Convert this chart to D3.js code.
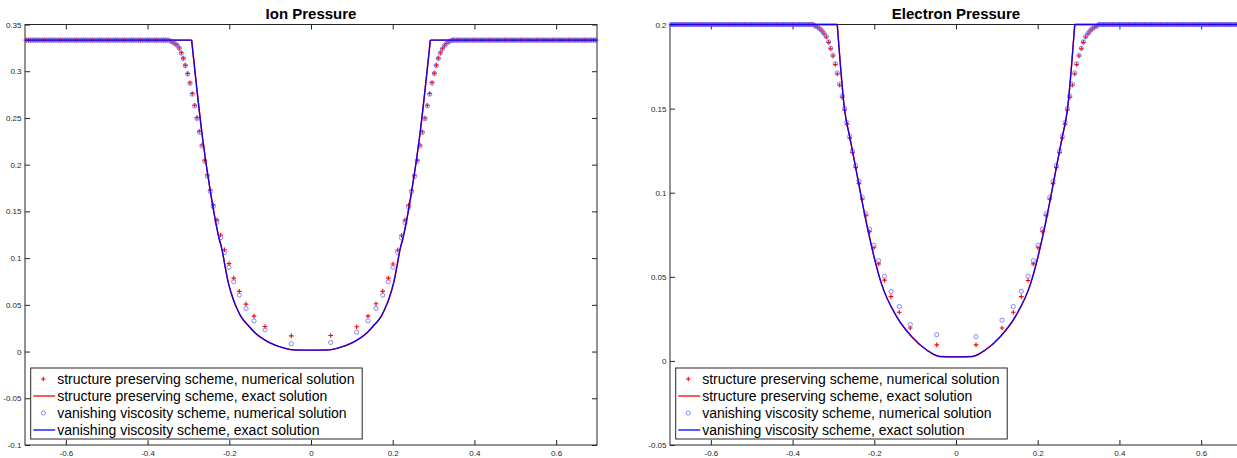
<!DOCTYPE html>
<html>
<head>
<meta charset="utf-8">
<script src="https://cdn.jsdelivr.net/npm/d3@7"></script>
<style>
  body { margin: 0; background: #fff; }
  text { font-family: "Liberation Sans", Arial, sans-serif; }
</style>
</head>
<body>
<script>
// undisturbed grid points (same in both panels)
const farLeftX = [-0.6972,-0.6916,-0.6860,-0.6804,-0.6748,-0.6692,-0.6636,-0.6580,-0.6524,-0.6468,-0.6412,-0.6356,-0.6300,-0.6244,-0.6188,-0.6132,-0.6076,-0.6020,-0.5964,-0.5908,-0.5852,-0.5796,-0.5740,-0.5684,-0.5628,-0.5572,-0.5516,-0.5460,-0.5404,-0.5348,-0.5292,-0.5236,-0.5180,-0.5124,-0.5068,-0.5012,-0.4956,-0.4900,-0.4844,-0.4788,-0.4732,-0.4676,-0.4620,-0.4564,-0.4508,-0.4452,-0.4396,-0.4340,-0.4284,-0.4228,-0.4172,-0.4116,-0.4060,-0.4004,-0.3948,-0.3892,-0.3836,-0.3780,-0.3724,-0.3668,-0.3612,-0.3556,-0.3500];
const farRightX = [0.3500,0.3556,0.3612,0.3668,0.3724,0.3780,0.3836,0.3892,0.3948,0.4004,0.4060,0.4116,0.4172,0.4228,0.4284,0.4340,0.4396,0.4452,0.4508,0.4564,0.4620,0.4676,0.4732,0.4788,0.4844,0.4900,0.4956,0.5012,0.5068,0.5124,0.5180,0.5236,0.5292,0.5348,0.5404,0.5460,0.5516,0.5572,0.5628,0.5684,0.5740,0.5796,0.5852,0.5908,0.5964,0.6020,0.6076,0.6132,0.6188,0.6244,0.6300,0.6356,0.6412,0.6468,0.6524,0.6580,0.6636,0.6692,0.6748,0.6804,0.6860,0.6916,0.6972];

// ion pressure
const ionFar = 0.3333;
const ionMidX = [-0.3434,-0.3386,-0.3329,-0.3280,-0.3224,-0.3175,-0.3126,-0.3077,-0.3018,-0.2962,-0.2906,-0.2847,-0.2791,-0.2734,-0.2668,-0.2602,-0.2539,-0.2465,-0.2392,-0.2301,-0.2211,-0.2118,-0.2007,-0.1892,-0.1755,-0.1591,-0.1395,-0.1126,-0.0482,
  0.0482,0.1119,0.1395,0.1591,0.1755,0.1892,0.2007,0.2122,0.2215,0.2301,0.2387,0.2460,0.2534,0.2602,0.2668,0.2724,0.2791,0.2847,0.2906,0.2962,0.3018,0.3067,0.3116,0.3165,0.3214,0.3263,0.3312,0.3361,0.3420,0.3469];
const ionSP = [0.3323,0.3312,0.3297,0.3280,0.3248,0.3197,0.3140,0.3065,0.2975,0.2876,0.2761,0.2636,0.2503,0.2357,0.2210,0.2049,0.1892,0.1731,0.1570,0.1409,0.1248,0.1089,0.0941,0.0786,0.0644,0.0508,0.0379,0.0268,0.0168,
  0.0172,0.0265,0.0379,0.0512,0.0644,0.0786,0.0937,0.1087,0.1245,0.1406,0.1567,0.1727,0.1888,0.2049,0.2210,0.2353,0.2500,0.2636,0.2761,0.2879,0.2980,0.3065,0.3140,0.3197,0.3240,0.3273,0.3297,0.3315,0.3326,0.3333];
const ionVV = [0.3321,0.3310,0.3295,0.3277,0.3245,0.3193,0.3136,0.3060,0.2970,0.2870,0.2754,0.2628,0.2494,0.2347,0.2199,0.2036,0.1876,0.1713,0.1551,0.1383,0.1219,0.1059,0.0901,0.0748,0.0604,0.0461,0.0329,0.0233,0.0083,
  0.0097,0.0207,0.0329,0.0461,0.0604,0.0748,0.0901,0.1059,0.1216,0.1379,0.1545,0.1709,0.1872,0.2036,0.2199,0.2343,0.2491,0.2628,0.2754,0.2873,0.2975,0.3060,0.3136,0.3193,0.3237,0.3270,0.3295,0.3313,0.3324,0.3332];
const ionExactX = [-0.7,-0.2921,-0.2651,-0.2472,-0.2245,-0.2179,-0.2105,-0.2024,-0.1902,-0.1812,-0.1721,-0.1535,-0.1371,-0.1004,-0.0678,-0.0350,0,0.0350,0.0678,0.1004,0.1371,0.1535,0.1721,0.1812,0.1902,0.2024,0.2105,0.2179,0.2245,0.2472,0.2651,0.2921,0.7];
const ionExactY = [0.3333,0.3333,0.2275,0.1738,0.1202,0.1094,0.0915,0.0737,0.0558,0.0461,0.0379,0.0279,0.0201,0.0093,0.0040,0.0016,0.0015,0.0016,0.0040,0.0093,0.0201,0.0279,0.0379,0.0461,0.0558,0.0737,0.0915,0.1094,0.1202,0.1738,0.2275,0.3333,0.3333];

// electron pressure
const eleFar = 0.2;
const eleMidX = [-0.3452,-0.3386,-0.3329,-0.3280,-0.3231,-0.3175,-0.3116,-0.3067,-0.3011,-0.2955,-0.2906,-0.2847,-0.2786,-0.2724,-0.2668,-0.2600,-0.2534,-0.2455,-0.2375,-0.2294,-0.2203,-0.2113,-0.2007,-0.1892,-0.1750,-0.1591,-0.1388,-0.1119,-0.0472,
  0.0490,0.1126,0.1403,0.1599,0.1763,0.1892,0.2007,0.2113,0.2203,0.2294,0.2375,0.2455,0.2534,0.2600,0.2668,0.2724,0.2786,0.2847,0.2906,0.2955,0.3011,0.3067,0.3116,0.3175,0.3231,0.3280,0.3329,0.3386,0.3452];
const eleSP = [0.1991,0.1983,0.1973,0.1961,0.1945,0.1926,0.1894,0.1856,0.1813,0.1762,0.1706,0.1639,0.1567,0.1491,0.1407,0.1324,0.1238,0.1149,0.1054,0.0961,0.0864,0.0768,0.0673,0.0577,0.0480,0.0382,0.0289,0.0196,0.0095,
  0.0095,0.0196,0.0289,0.0382,0.0478,0.0577,0.0673,0.0768,0.0864,0.0961,0.1054,0.1149,0.1238,0.1324,0.1407,0.1491,0.1567,0.1639,0.1706,0.1762,0.1813,0.1856,0.1894,0.1926,0.1945,0.1961,0.1973,0.1983,0.1991];
const eleVV = [0.1992,0.1984,0.1974,0.1962,0.1947,0.1928,0.1897,0.1859,0.1817,0.1767,0.1712,0.1646,0.1575,0.1500,0.1417,0.1335,0.1250,0.1162,0.1068,0.0972,0.0875,0.0783,0.0688,0.0596,0.0503,0.0412,0.0323,0.0216,0.0156,
  0.0144,0.0242,0.0323,0.0414,0.0503,0.0596,0.0688,0.0783,0.0875,0.0972,0.1068,0.1162,0.1250,0.1335,0.1417,0.1500,0.1575,0.1646,0.1712,0.1767,0.1817,0.1859,0.1897,0.1928,0.1947,0.1962,0.1974,0.1984,0.1992];
const eleExactX = [-0.7,-0.2906,-0.2725,-0.2595,-0.2455,-0.2308,-0.2147,-0.1824,-0.1452,-0.1084,-0.0717,-0.0392,0,0.0392,0.0717,0.1084,0.1452,0.1824,0.2147,0.2308,0.2455,0.2595,0.2725,0.2906,0.7];
const eleExactY = [0.2,0.2,0.1490,0.1324,0.1149,0.0961,0.0768,0.0458,0.0263,0.0144,0.0065,0.0026,0.0024,0.0026,0.0065,0.0144,0.0263,0.0458,0.0768,0.0961,0.1149,0.1324,0.1490,0.2,0.2];

const xTicks = [-0.6,-0.4,-0.2,0,0.2,0.4,0.6];
const ionTicks = [-0.1,-0.05,0,0.05,0.1,0.15,0.2,0.25,0.3,0.35];
const eleTicks = [-0.05,0,0.05,0.1,0.15,0.2];
const legendLabels = [
  "structure preserving scheme, numerical solution",
  "structure preserving scheme, exact solution",
  "vanishing viscosity scheme, numerical solution",
  "vanishing viscosity scheme, exact solution"
];

const width = 1237, height = 458;
const axColor = "#262626";
const fmt = d => String(+d.toFixed(2));

const svg = d3.select("body").append("svg")
    .attr("width", width)
    .attr("height", height);

function plus(sel, s) {
    sel.append("path")
        .attr("d", `M${-s},0H${s}M0,${-s}V${s}`)
        .attr("stroke", "#ff0000")
        .attr("stroke-width", 1.1)
        .attr("fill", "none");
}

function drawPanel(p) {
    const x = d3.scaleLinear().domain([-0.7, 0.7]).range([p.left, p.left + 572]);
    const y = d3.scaleLinear().domain(p.yDomain).range([445, 24.5]);
    const g = svg.append("g");

    // axes, ticks pointing inward
    const clean = a => a.call(s => s.select(".domain").remove())
        .call(s => s.selectAll("line").attr("stroke", axColor))
        .call(s => s.selectAll("text").attr("fill", axColor).style("font-size", "8px")
            .style("font-family", '"Liberation Sans", Arial, sans-serif'));

    g.append("g").attr("transform", "translate(0,445)")
        .call(d3.axisBottom(x).tickValues(xTicks).tickSizeInner(-5).tickSizeOuter(0).tickPadding(5).tickFormat(fmt))
        .call(clean);
    g.append("g").attr("transform", "translate(0,24.5)")
        .call(d3.axisTop(x).tickValues(xTicks).tickSizeInner(-5).tickSizeOuter(0).tickFormat(""))
        .call(clean);
    g.append("g").attr("transform", `translate(${p.left},0)`)
        .call(d3.axisLeft(y).tickValues(p.yTicks).tickSizeInner(-5).tickSizeOuter(0).tickPadding(3.5).tickFormat(fmt))
        .call(clean);
    g.append("g").attr("transform", `translate(${p.left + 572},0)`)
        .call(d3.axisRight(y).tickValues(p.yTicks).tickSizeInner(-5).tickSizeOuter(0).tickFormat(""))
        .call(clean);

    g.append("rect")
        .attr("x", p.left).attr("y", 24.5)
        .attr("width", 572).attr("height", 420.5)
        .attr("fill", "none").attr("stroke", axColor).attr("stroke-width", 1);

    const series = ys => farLeftX.map(v => [v, p.far])
        .concat(p.midX.map((v, i) => [v, ys[i]]))
        .concat(farRightX.map(v => [v, p.far]));
    const exact = p.exactX.map((v, i) => [v, p.exactY[i]]);
    const n = exact.length;
    // plateaus straight, the dip smoothed
    const straight = d3.line().x(d => x(d[0])).y(d => y(d[1]));
    const smooth = d3.line().x(d => x(d[0])).y(d => y(d[1])).curve(d3.curveMonotoneX);
    const exactPath = straight(exact.slice(0, 2)) + straight(exact.slice(n - 2)) + smooth(exact.slice(1, n - 1));

    // structure preserving: numerical (+) and exact
    g.append("g").selectAll("g").data(series(p.sp)).join("g")
        .attr("transform", d => `translate(${x(d[0])},${y(d[1])})`)
        .each(function() { plus(d3.select(this), 2.3); });
    g.append("path").attr("d", exactPath)
        .attr("fill", "none").attr("stroke", "#ff0000").attr("stroke-width", 1.4);

    // vanishing viscosity: numerical (o) and exact
    g.append("g").selectAll("circle").data(series(p.vv)).join("circle")
        .attr("cx", d => x(d[0])).attr("cy", d => y(d[1])).attr("r", 2.1)
        .attr("fill", "none").attr("stroke", "#6a6aff").attr("stroke-width", 0.8);
    g.append("path").attr("d", exactPath)
        .attr("fill", "none").attr("stroke", "#0000ff").attr("stroke-opacity", 0.92).attr("stroke-width", 1.3);

    // title
    g.append("text")
        .attr("x", p.left + 286).attr("y", 18.5)
        .attr("text-anchor", "middle")
        .style("font-size", "15px").style("font-weight", "bold")
        .text(p.title);

    // legend
    const bx = p.left + 5.7;
    const lg = g.append("g");
    lg.append("rect").attr("x", bx).attr("y", 368).attr("width", 331.5).attr("height", 71)
        .attr("fill", "#fff").attr("stroke", axColor).attr("stroke-width", 1);
    const rowY = [379, 396, 413, 430];
    legendLabels.forEach((t, i) => {
        lg.append("text").attr("x", bx + 26.5).attr("y", rowY[i] + 5)
            .style("font-size", "14px").attr("fill", "#000").text(t);
    });
    plus(lg.append("g").attr("transform", `translate(${bx + 12.6},${rowY[0]})`), 2.3);
    lg.append("line").attr("x1", bx + 2.6).attr("x2", bx + 24.5).attr("y1", rowY[1]).attr("y2", rowY[1])
        .attr("stroke", "#ff0000").attr("stroke-width", 1.3);
    lg.append("circle").attr("cx", bx + 12.6).attr("cy", rowY[2]).attr("r", 2.1)
        .attr("fill", "none").attr("stroke", "#6a6aff").attr("stroke-width", 0.8);
    lg.append("line").attr("x1", bx + 2.6).attr("x2", bx + 24.5).attr("y1", rowY[3]).attr("y2", rowY[3])
        .attr("stroke", "#0000ff").attr("stroke-width", 1.3);
}

drawPanel({
    left: 25, title: "Ion Pressure", yDomain: [-0.1, 0.35], yTicks: ionTicks,
    far: ionFar, midX: ionMidX, sp: ionSP, vv: ionVV, exactX: ionExactX, exactY: ionExactY
});
drawPanel({
    left: 670, title: "Electron Pressure", yDomain: [-0.05, 0.2], yTicks: eleTicks,
    far: eleFar, midX: eleMidX, sp: eleSP, vv: eleVV, exactX: eleExactX, exactY: eleExactY
});
</script>
</body>
</html>
